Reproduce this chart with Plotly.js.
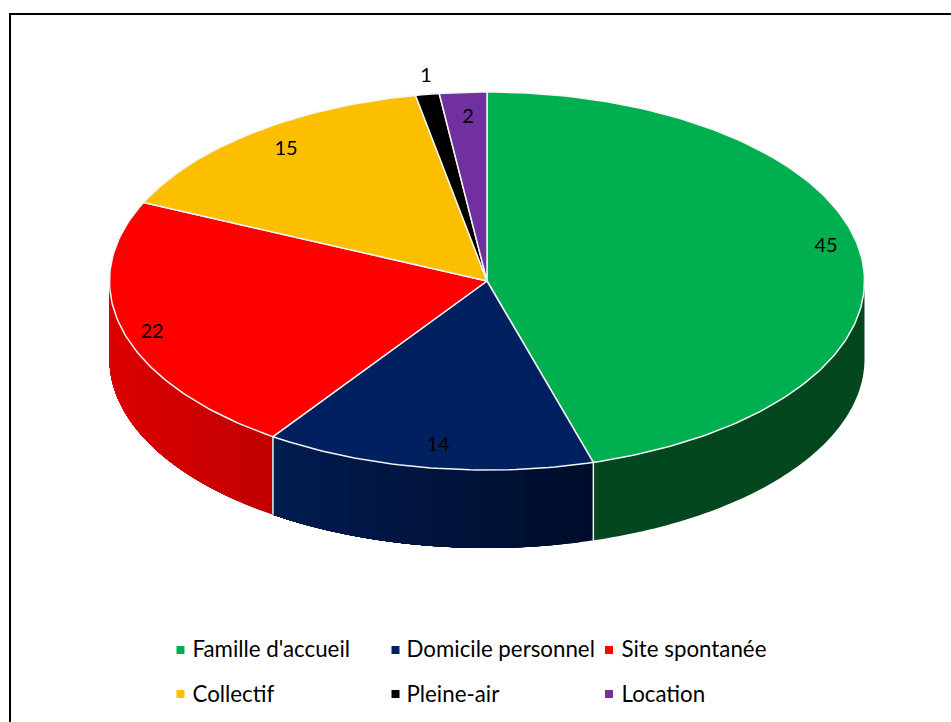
<!DOCTYPE html>
<html><head><meta charset="utf-8">
<script src="https://cdn.plot.ly/plotly-3.0.1.min.js"></script>
<style>html,body{margin:0;padding:0;background:#fff}#c{width:951px;height:722px}</style>
</head><body><div id="c"></div>
<script>
const categories = ["Famille d'accueil","Domicile personnel","Site spontanée","Collectif","Pleine-air","Location"];
const values = [45,14,22,15,1,2];
const colors = ["#00b050","#002060","#ff0000","#fbbf00","#000000","#7030a0"];
const sideLeft = {0:"#03471f",1:"#011c50",2:"#dc0000"};
const sideRight = {0:"#03471f",1:"#000c2a",2:"#c00000"};
const labelX = [826,438,152,286,426,468];
const labelY = [246.5,445.5,332.5,149.5,76.5,117.5];
const legendX = [180.5,395.5,609,180.5,395.5,609];
const legendY = [650,650,650,694,694,694];
const legendTextX = [192.5,406.5,621.5,192.5,406.5,621.5];
const legendTextY = [651,651,651,696,696,696];

const CX=487, CY=281, RX=377.5, RY=189, DEPTH=78;
const total = values.reduce((a,b)=>a+b,0);
const px = a => CX+RX*Math.sin(a), py = a => CY-RY*Math.cos(a);
const rad = d => d*Math.PI/180;
let edges=[0]; values.forEach(v=>edges.push(edges[edges.length-1]+v/total*360));
const traces=[];
const poly=(xs,ys,fill,lw,lc)=>traces.push({type:'scatter',mode:'lines',x:xs,y:ys,fill:'toself',fillcolor:fill,
  line:{color:lc||fill,width:lw},hoverinfo:'skip',showlegend:false});
const hex=c=>[1,3,5].map(i=>parseInt(c.substr(i,2),16));
const mix=(a,b,t)=>{const A=hex(a),B=hex(b);return 'rgb('+A.map((v,i)=>Math.round(v+(B[i]-v)*t)).join(',')+')';};

// side wall, narrow overlapping strips so the shading runs left to right without seams
[0,2,1].forEach(i=>{
  const a0=rad(edges[i]), a1=rad(edges[i+1]);
  const s0=Math.max(a0,Math.PI/2), s1=Math.min(a1,Math.PI*1.5);
  const n=(sideLeft[i]===sideRight[i])?1:24;
  const xMin=Math.min(px(s0),px(s1)),xMax=Math.max(px(s0),px(s1));
  for(let k=0;k<n;k++){
    // each strip runs on to the far end of the wall segment; the next one paints over it
    const u=s0+(s1-s0)*k/n, v=s1;
    const m=Math.max(3,Math.ceil((v-u)*180/Math.PI));
    const xl=[],yl=[];
    for(let j=0;j<=m;j++){const t=u+(v-u)*j/m;xl.push(px(t));yl.push(py(t));}
    for(let j=m;j>=0;j--){const t=u+(v-u)*j/m;xl.push(px(t));yl.push(py(t)+DEPTH);}
    xl.push(xl[0]);yl.push(yl[0]);
    const mx=(px(u)+px(u+(s1-s0)/n))/2;
    traces.push({type:'scatter',mode:'none',x:xl,y:yl,fill:'toself',
      fillcolor:mix(sideLeft[i],sideRight[i],(mx-xMin)/(xMax-xMin)),hoverinfo:'skip',showlegend:false});
  }
});
// white seams on the wall
[edges[1],edges[2]].forEach(e=>{const a=rad(e);
  traces.push({type:'scatter',mode:'lines',x:[px(a),px(a)],y:[py(a),py(a)+DEPTH],line:{color:'#f2f2f2',width:1.5},hoverinfo:'skip',showlegend:false});
});
// top slices
values.forEach((v,i)=>{
  const a0=rad(edges[i]),a1=rad(edges[i+1]);
  const n=Math.max(4,Math.ceil(edges[i+1]-edges[i]));
  const xs=[CX],ys=[CY];
  for(let k=0;k<=n;k++){const t=a0+(a1-a0)*k/n;xs.push(px(t));ys.push(py(t));}
  xs.push(CX);ys.push(CY);
  poly(xs,ys,colors[i],1.5,'#f4f4f4');
});
// value labels
traces.push({type:'scatter',mode:'text',x:labelX,y:labelY,text:values.map(String),textposition:'middle center',
  textfont:{family:'Lato, Carlito, sans-serif',size:20,color:'#000'},hoverinfo:'skip',showlegend:false});
// legend
traces.push({type:'scatter',mode:'markers',x:legendX,y:legendY,marker:{symbol:'square',size:8,color:colors,line:{width:0}},hoverinfo:'skip',showlegend:false});
traces.push({type:'scatter',mode:'text',x:legendTextX,y:legendTextY,text:categories,textposition:'middle right',
  textfont:{family:'Lato, Carlito, sans-serif',size:22.3,color:'#000'},hoverinfo:'skip',showlegend:false});

const hidden={visible:false,fixedrange:true};
Plotly.newPlot('c',traces,{
  width:951,height:722,margin:{l:0,r:0,t:0,b:0},paper_bgcolor:'#fff',plot_bgcolor:'#fff',showlegend:false,
  xaxis:Object.assign({range:[0,951]},hidden),
  yaxis:Object.assign({range:[722,0]},hidden),
  shapes:[{type:'path',path:'M 10 722 L 10 14 L 951 14',line:{color:'#000',width:2},xref:'x',yref:'y',layer:'below'}]
},{displayModeBar:false,staticPlot:true});
</script></body></html>
